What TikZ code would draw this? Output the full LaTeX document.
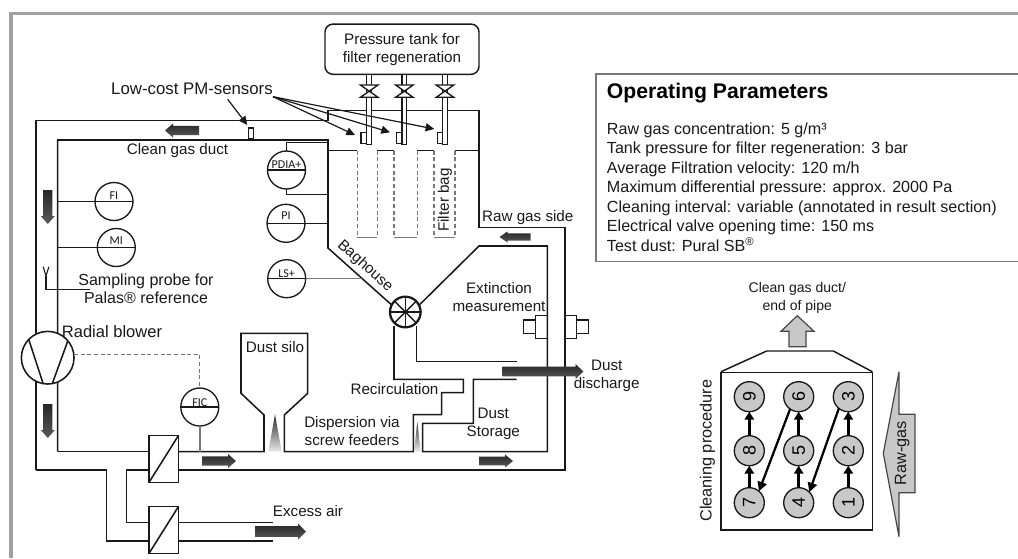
\documentclass[tikz,border=0pt]{standalone}
\usepackage{fontspec}
\setmainfont{Liberation Sans}
\newfontfamily\tagfont{Carlito}
\usepackage{xcolor}
\definecolor{frame}{RGB}{160,160,164}
\definecolor{ink}{RGB}{25,25,25}
\definecolor{bagline}{RGB}{120,120,120}
\definecolor{flowgray}{RGB}{200,200,200}
\usetikzlibrary{arrows.meta,calc}
\tikzset{
  lbl/.style={inner sep=0pt,outer sep=0pt,align=center,text=ink,
              font=\fontsize{11.4}{13.7}\selectfont},
  duct/.style={draw=ink,line width=1.15pt,line join=miter},
  signal/.style={draw=ink,line width=0.8pt},
  instr/.style={circle,draw=ink,line width=1pt,fill=white,minimum size=28.5pt,
                inner sep=0pt,outer sep=0pt},
  tagtext/.style={inner sep=0pt,outer sep=0pt,text=ink,
                  font=\tagfont\fontsize{9}{10}\selectfont},
  sensor/.style={rectangle,draw=ink,line width=1pt,fill=white,minimum width=4.2pt,
                 minimum height=7.8pt,inner sep=0pt,outer sep=0pt},
  damper/.style={rectangle,draw=ink,line width=1.15pt,fill=white,minimum width=22pt,
                 minimum height=35pt,inner sep=0pt,outer sep=0pt},
  pointer/.style={draw=ink,line width=0.9pt,-{Triangle[length=6.5pt,width=6pt]}},
  flowarrow/.style={top color=black!85,bottom color=black!65,draw=none},
  numcirc/.style={circle,draw=ink,line width=1pt,fill=flowgray,minimum size=22.5pt,
                  inner sep=0pt,outer sep=0pt,font=\fontsize{13.5}{13.5}\selectfont},
  seqarrow/.style={draw=black,line width=2.2pt,-{Triangle[length=6pt,width=7pt]}},
  diagarrow/.style={draw=black,line width=1.7pt,-{Triangle[length=7pt,width=7pt]}},
}
\begin{document}
\begin{tikzpicture}[x=0.75pt,y=-0.75pt]
  \useasboundingbox (0,0) rectangle (1018,558);
  %% frame of the figure
  \draw[frame,line width=2.6pt] (10.8,558) -- (10.8,13.5) -- (1018,13.5);

  %% ducts
  \draw[duct] (57.7,451.7) -- (57.7,140) -- (328,140) -- (328,248) -- (391.7,305);
  \draw[duct] (149,451.7) -- (57.7,451.7);
  \draw[duct] (178.3,451.7) -- (264,451.7) -- (264,415) -- (241,393.3) -- (241,333.3)
    -- (307.7,333.3) -- (307.7,393.3) -- (284.3,415) -- (284.3,451.7) -- (413.3,451.7)
    -- (413.3,414.7) -- (441.7,414.7) -- (441.7,392.7) -- (463.3,392.7) -- (463.3,379.3)
    -- (394,379.3) -- (394,326);
  \draw[duct] (36,470) -- (36,120.5) -- (328,120.5) -- (328,110.7) -- (479,110.7)
    -- (479,227.5) -- (565,227.5) -- (565,470) -- (178.3,470);
  \draw[duct] (36,470) -- (106.7,470) -- (106.7,541) -- (149,541);
  \draw[duct] (149,470) -- (126.7,470) -- (126.7,522.7) -- (149,522.7);
  \draw[duct] (178.3,522.7) -- (273,522.7);
  \draw[duct] (178.3,541) -- (273,541);
  \draw[duct] (420,304.3) -- (479,246) -- (547.3,246) -- (547.3,451.7) -- (422.7,451.7)
    -- (422.7,423.3) -- (473.3,423.3) -- (473.3,379.3) -- (516.7,379.3);
  \draw[duct] (416.7,326) -- (416.7,361.7) -- (516.7,361.7);

  %% tube sheet and filter bags
  \draw[duct] (328,150.7) -- (357.3,150.7);
  \draw[duct] (377.3,150.7) -- (394,150.7);
  \draw[duct] (417.3,150.7) -- (434,150.7);
  \draw[duct] (455,150.7) -- (479,150.7);
  \foreach \xa/\xb in {357.3/377.3,394/417.3,434/455}{%
    \draw[bagline,line width=0.8pt,densely dashed]
      (\xa,150.7) -- (\xa,237.3) (\xb,150.7) -- (\xb,237.3);
    \draw[bagline,line width=0.9pt] (\xa,237.3) -- (\xb,237.3);}

  %% pressure tank, pipes and valves
  \node[draw=ink,line width=1.1pt,rounded corners=6pt,lbl,minimum width=115.5pt,
        minimum height=37.7pt,fill=white](tank) at (402,49.2)
        {Pressure tank for\\filter regeneration};
  \foreach \x in {369.2,404.4,445}{%
    \draw[draw=ink,line width=1pt,fill=white]
      (\x-2.4,74.3) rectangle (\x+2.4,144.3);
    \draw[draw=ink,line width=1pt,fill=white]
      (\x-8.8,85) -- (\x+8.8,85) -- (\x-8.8,97.3) -- (\x+8.8,97.3) -- cycle;}

  %% low-cost sensors
  \node[lbl,font=\fontsize{12.6}{15}\selectfont](pmlabel) at (192,89) {Low-cost PM-sensors};
  \node[sensor](sens0) at (251,133.3) {};
  \node[sensor](sens1) at (363.8,138) {};
  \node[sensor](sens2) at (399.2,138) {};
  \node[sensor](sens3) at (440,138) {};
  \coordinate (pmfork) at (273,96.7);
  \coordinate (pmleft) at (227.7,99.3);
  \coordinate (tip0) at (247.3,125);
  \coordinate (tip1) at (355,135);
  \coordinate (tip2) at (390,132.3);
  \coordinate (tip3) at (434.3,129);
  \draw[pointer] (pmleft) -- (tip0);
  \foreach \t in {tip1,tip2,tip3}{%
    \draw[pointer] (pmfork) -- (\t);}

  %% instruments
  \foreach \n/\x/\y/\t/\ty in {PDIA/286.5/170/PDIA+/165,FI/114/201.5/FI/195.7,
      MI/116.3/247.5/MI/240.7,PI/286/223.3/PI/216,LS/286.7/278.7/LS+/273.3,
      FIC/199.8/407/FIC/402.3}{%
    \node[instr](\n) at (\x,\y) {};
    \draw[signal,line width=1pt] (\n.west) -- (\n.east);
    \node[tagtext](\n tag) at (\x,\ty) {\t};}
  \coordinate (pdiatop) at (328,142.7);
  \coordinate (pdiabot) at (328,194.7);
  \coordinate (fitap) at (57.7,201.5);
  \coordinate (mitap) at (57.7,247.5);
  \coordinate (pitap) at (328,223.3);
  \coordinate (lstap) at (361.7,278.7);
  \coordinate (fictap) at (199.8,451.7);
  \draw[signal] (PDIA.north) |- (pdiatop);
  \draw[signal] (PDIA.south) |- (pdiabot);
  \draw[signal] (fitap) -- (FI.west);
  \draw[signal] (mitap) -- (MI.west);
  \draw[signal] (PI.east) -- (pitap);
  \draw[signal,draw=bagline] (LS.east) -- (lstap);
  \draw[signal,draw=bagline,line width=1.1pt] (FIC.south) -- (fictap);

  %% sampling probe
  \coordinate (probefoot) at (46,276);
  \coordinate (probeend) at (90,289.3);
  \draw[signal] (43.2,266.7) -- (probefoot) -- (48.9,266.7);
  \draw[signal] (probefoot) |- (probeend);

  %% radial blower
  \node[circle,draw=ink,line width=1.15pt,fill=white,minimum size=39.5pt,inner sep=0pt,
        outer sep=0pt](blower) at (47.7,357.7) {};
  \draw[duct] (blower.136) -- (blower.260) (blower.40) -- (blower.280);
  \draw[signal,draw=bagline,densely dashed] (blower.7) -| (FIC.north);

  %% rotary valve
  \node[circle,draw=ink,line width=1.7pt,fill=white,minimum size=23pt,inner sep=0pt,
        outer sep=0pt](wheel) at (405.3,312) {};
  \foreach \a/\b in {0/180,45/225,90/270,135/315}{%
    \draw[ink,line width=1.1pt] (wheel.\a) -- (wheel.\b);}

  %% dampers
  \node[damper](dampA) at (163.7,459) {};
  \node[damper](dampB) at (163.7,530) {};
  \foreach \n in {dampA,dampB}{%
    \draw[duct] (\n.south west) -- (\n.north east);}

  %% extinction measurement
  \draw[duct] (523.3,320) rectangle (535.7,333.3);
  \draw[duct] (535.7,315.7) rectangle (547.3,338.3);
  \draw[duct] (565,315.7) rectangle (576.7,338.3);
  \draw[duct] (576.7,320) rectangle (588.3,333.3);

  %% dust cones
  \shade[top color=black!85,bottom color=black!8] (275,414.3) -- (281.7,451.7) -- (268.3,451.7) -- cycle;
  \shade[top color=black!80,bottom color=black!8] (417.3,421.7) -- (420.7,451.7) -- (414,451.7) -- cycle;

  %% flow arrows
  \foreach \x/\y/\a/\l/\h in {182/130.5/180/34/14,47.8/207/-90/34/14,47.8/421/-90/34/14,
      219/461/0/34/14,280.5/531.5/0/51/16,496/461/0/34/13,515/237/180/31/11,543/371.5/0/81/15}{%
    \shade[flowarrow,shift={(\x,\y)},rotate=\a]
      (-\l/2,\h*0.33) -- (\l/2-8,\h*0.33) -- (\l/2-8,\h/2) -- (\l/2,0) -- (\l/2-8,-\h/2)
      -- (\l/2-8,-\h*0.33) -- (-\l/2,-\h*0.33) -- cycle;}

  %% labels of the plant
  \node[lbl](ductlabel) at (177.5,150.5) {Clean gas duct};
  \node[lbl,font=\fontsize{12}{13.7}\selectfont](probelabel) at (146,288.7) {Sampling probe for\\Palas® reference};
  \node[lbl,font=\fontsize{12.4}{14}\selectfont](blowerlabel) at (112,332) {Radial blower};
  \node[lbl](silolabel) at (275,347.5) {Dust silo};
  \node[lbl](screwlabel) at (352,431.2) {Dispersion via\\screw feeders};
  \node[lbl](recirclabel) at (394.5,389) {Recirculation};
  \node[lbl](storelabel) at (493.3,424.2) {Dust\\Storage};
  \node[lbl](extlabel) at (499,296.7) {Extinction\\measurement};
  \node[lbl](dischlabel) at (606.7,375.8) {Dust\\discharge};
  \node[lbl](excesslabel) at (308,511) {Excess air};
  \node[lbl,rotate=-42](baglabel) at (365,266) {Baghouse};
  \node[lbl,rotate=90](filterlabel) at (445,200) {Filter bag};
  \node[lbl](rawlabel) at (527.8,217.7) {Raw gas side};

  %% operating parameters
  \draw[bagline,line width=0.9pt] (1018,74) -- (596,74) -- (596,261.7) -- (1018,261.7);
  \node[anchor=west,inner sep=0pt,text=black,font=\fontsize{15.9}{18}\selectfont\bfseries](optitle)
    at (606.7,92.7) {Operating Parameters};
  \node[anchor=west,inner sep=0pt,align=left,text=ink,font=\fontsize{12.07}{14.6}\selectfont](oplist)
    at (606.7,187) {Raw gas concentration: 5 g/m³\\
    Tank pressure for filter regeneration: 3 bar\\
    Average Filtration velocity: 120 m/h\\
    Maximum differential pressure: approx. 2000 Pa\\
    Cleaning interval: variable (annotated in result section)\\
    Electrical valve opening time: 150 ms\\
    Test dust: Pural SB\textsuperscript{®}};

  %% cleaning procedure
  \draw[draw=ink,line width=1.2pt] (721,372.3) rectangle (872.3,530);
  \draw[draw=ink,line width=1.1pt] (721,371.7) -- (766.7,351) -- (833.3,351) -- (872.3,371.7);
  \draw[draw=ink!80,line width=0.9pt,fill=flowgray]
    (797.3,315.7) -- (814,331.3) -- (806,331.3) -- (806,346.7) -- (789,346.7)
    -- (789,331.3) -- (781,331.3) -- cycle;
  \draw[draw=ink!80,line width=0.9pt,fill=flowgray]
    (883.3,453.3) -- (899,371.7) -- (899,414.3) -- (915,414.3) -- (915,492.7)
    -- (899,492.7) -- (899,536.7) -- cycle;
  \foreach \n/\x/\y in {9/749.3/396.7,8/749.3/450.7,7/749.3/502.7,
      6/798.7/396.7,5/798.7/450.7,4/798.7/502.7,
      3/848.3/396.7,2/848.3/450.7,1/848.3/502.7}{%
    \node[numcirc](c\n) at (\x,\y) {\rotatebox{90}{\n}};}
  \foreach \a/\b in {1/2,2/3,4/5,5/6,7/8,8/9}{%
    \draw[seqarrow] (c\a) -- (c\b);}
  \draw[diagarrow] (c3.231) -- (c4.45);
  \draw[diagarrow] (c6.235) -- (c7.50);
  \node[lbl,font=\fontsize{10.5}{13}\selectfont](endlabel) at (797.3,298) {Clean gas duct/\\end of pipe};
  \node[lbl,rotate=90,font=\fontsize{12.2}{14}\selectfont](proclabel) at (707.3,450.7) {Cleaning procedure};
  \node[lbl,rotate=90,font=\fontsize{12.2}{14}\selectfont](rawgaslabel) at (902.3,453.3) {Raw-gas};
\end{tikzpicture}
\end{document}
